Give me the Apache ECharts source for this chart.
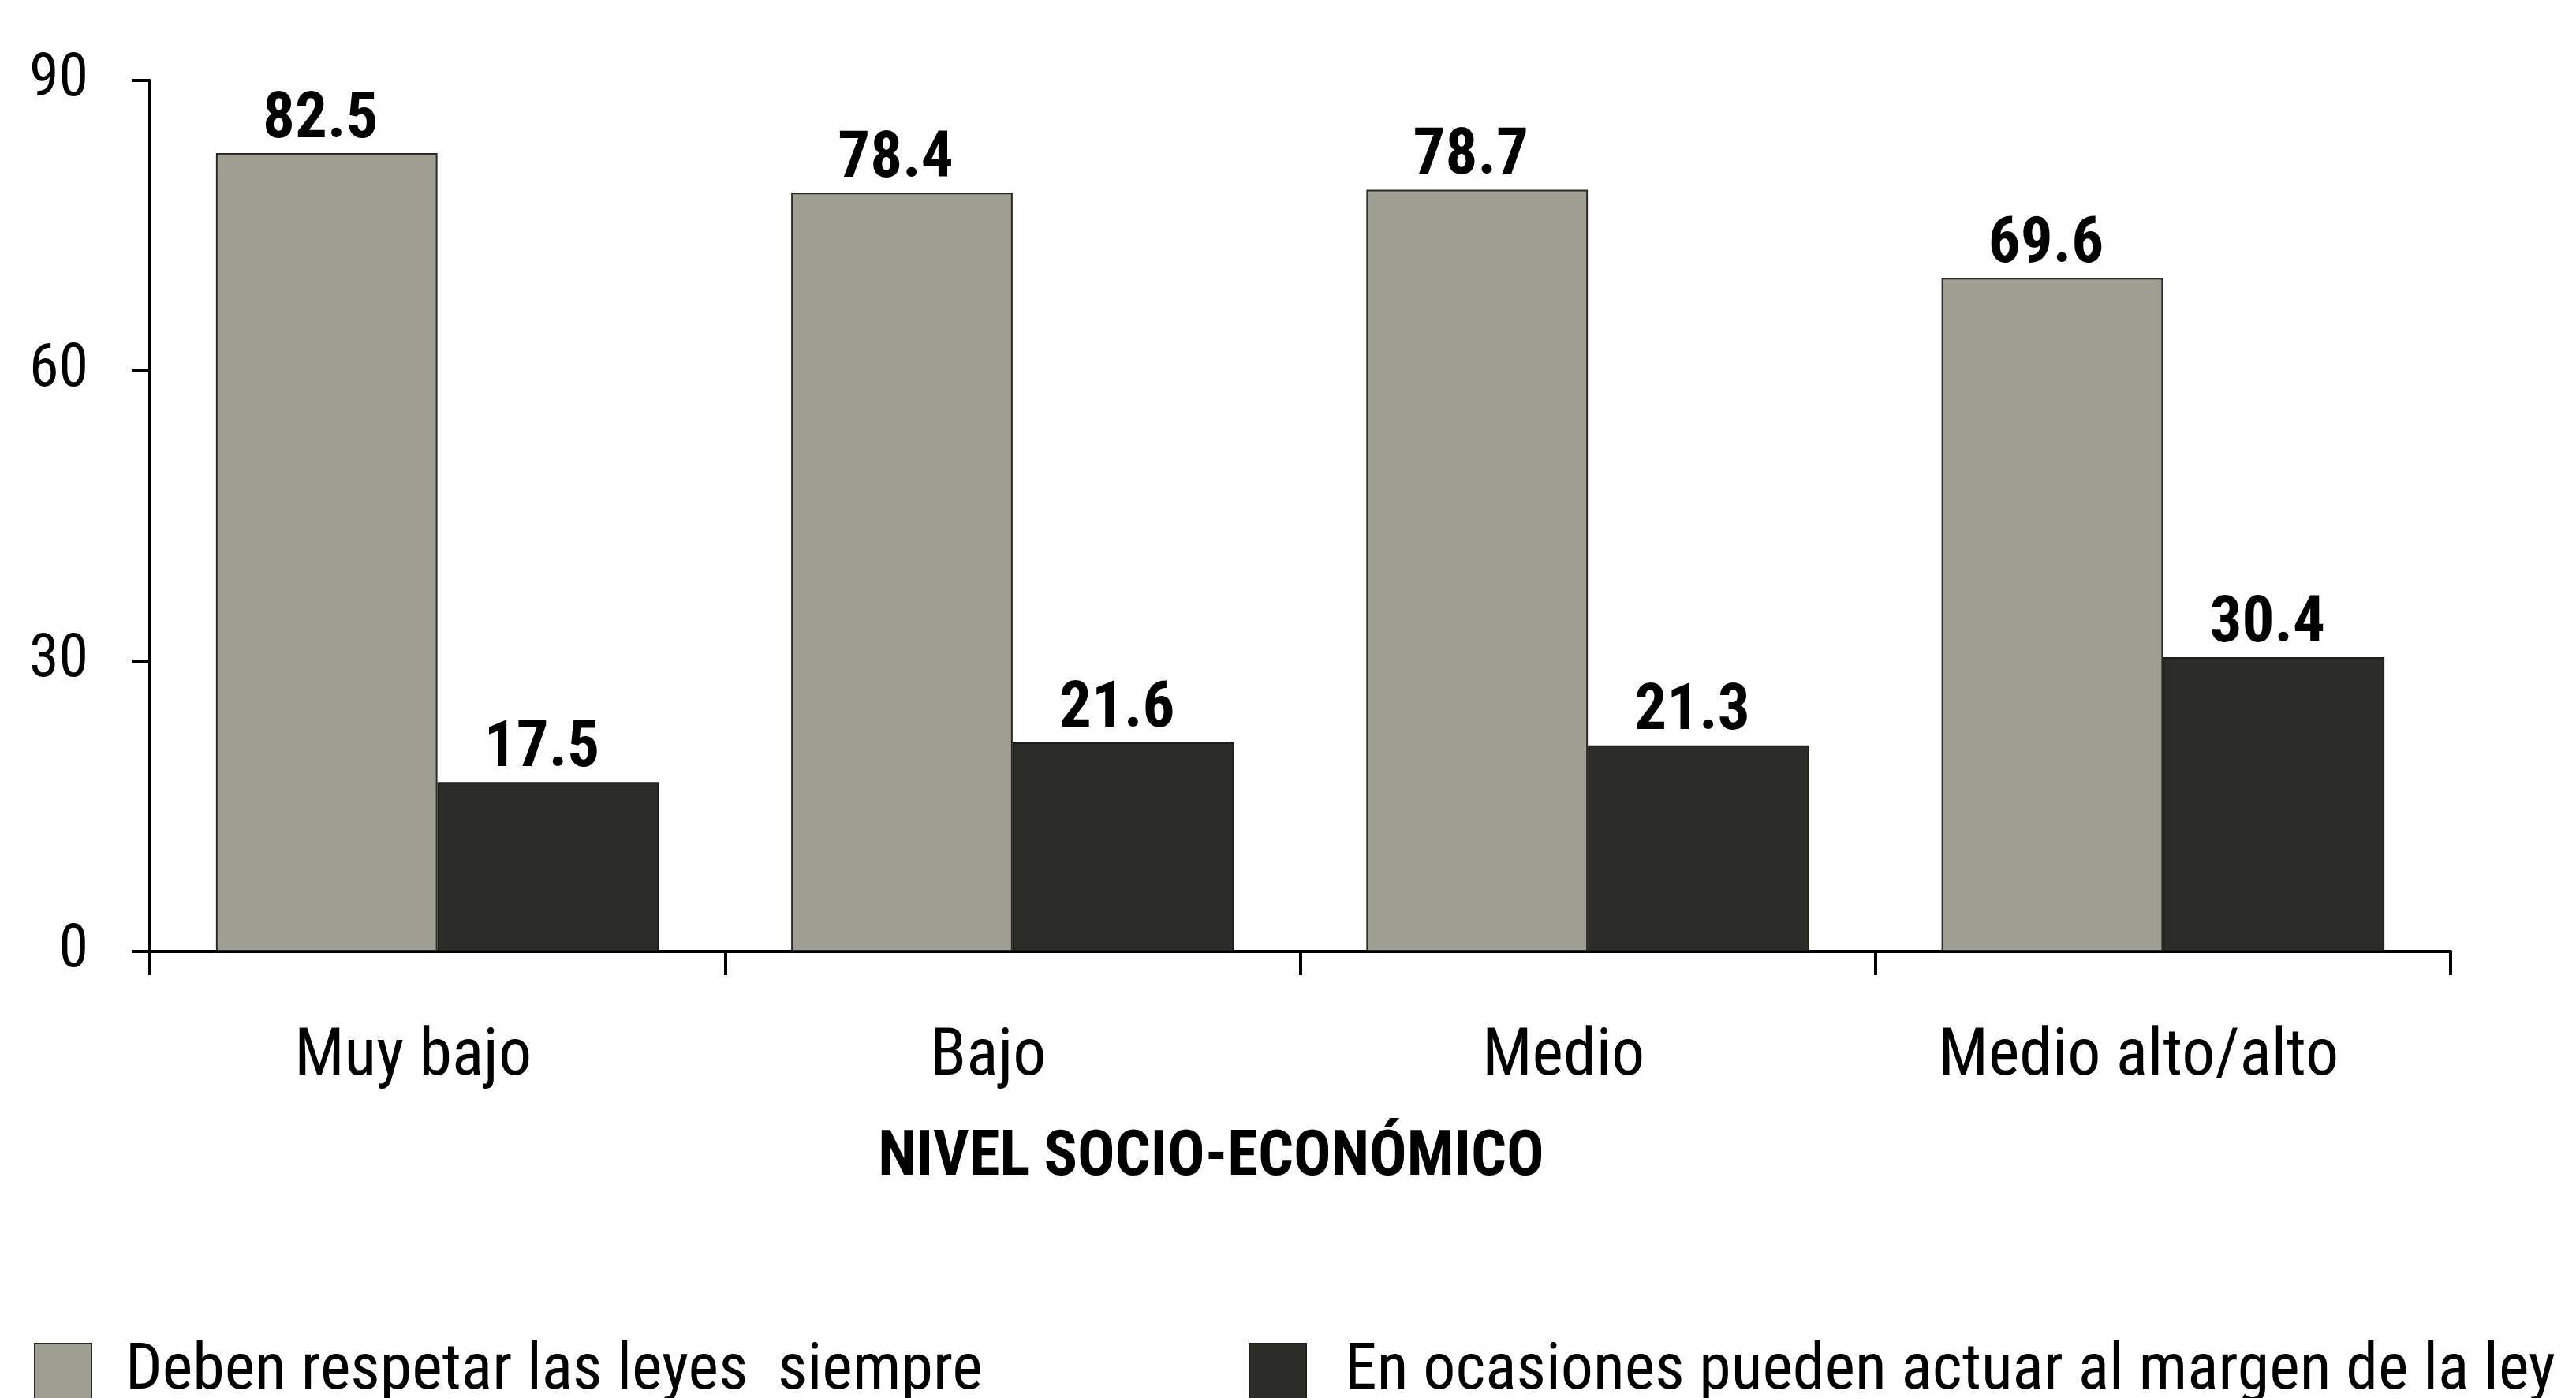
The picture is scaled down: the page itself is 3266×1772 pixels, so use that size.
<!DOCTYPE html>
<html>
<head>
<meta charset="utf-8">
<script src="https://cdn.jsdelivr.net/npm/echarts@6/dist/echarts.min.js"></script>
<style>
html,body{margin:0;padding:0;background:#ffffff;}
#chart{width:3266px;height:1772px;}
</style>
</head>
<body>
<div id="chart"></div>
<script>
const categories = ['Muy bajo', 'Bajo', 'Medio', 'Medio alto/alto'];
const seriesNames = ['Deben respetar las leyes  siempre', 'En ocasiones pueden actuar al margen de la ley'];
const respetar = [82.5, 78.4, 78.7, 69.6];
const margen = [17.5, 21.6, 21.3, 30.4];
const yTicks = [0, 30, 60, 90];
const axisTitle = 'NIVEL SOCIO-ECONÓMICO';

const FONT = '"Roboto Condensed", "Liberation Sans Narrow", "Arial Narrow", sans-serif';
const chart = echarts.init(document.getElementById('chart'), null, {renderer: 'canvas'});

const labelStyle = {
  show: true, position: 'top', distance: 0,
  fontFamily: FONT, fontWeight: 'bold', fontSize: 81, color: '#000',
  padding: [0, 16, 0, 0],
  formatter: p => p.value.toFixed(1)
};

chart.setOption({
  backgroundColor: '#ffffff',
  animation: false,
  grid: {left: 190, right: 159, top: 102, bottom: 566, containLabel: false},
  legend: [
    {
      data: [seriesNames[0]], left: 43, top: 1698, itemWidth: 72, itemHeight: 72,
      icon: 'rect', padding: 0,
      textStyle: {fontFamily: FONT, fontSize: 82, color: '#000', padding: [0, 0, 0, 38]}
    },
    {
      data: [seriesNames[1]], left: 1583, top: 1698, itemWidth: 72, itemHeight: 72,
      icon: 'rect', padding: 0,
      textStyle: {fontFamily: FONT, fontSize: 82, color: '#000', padding: [0, 0, 0, 44]}
    }
  ],
  xAxis: {
    type: 'category', data: categories,
    name: axisTitle, nameLocation: 'middle', nameGap: 224,
    nameTextStyle: {fontFamily: FONT, fontWeight: 'bold', fontSize: 79, color: '#000', padding: [0, 226, 0, 0]},
    axisLine: {lineStyle: {color: '#000', width: 4}},
    axisTick: {show: true, interval: 0, length: 30, lineStyle: {color: '#000', width: 4}},
    axisLabel: {interval: 0, fontFamily: FONT, fontSize: 84, color: '#000', margin: 93, padding: [0, 62, 0, 0]}
  },
  yAxis: {
    type: 'value', min: 0, max: 90, interval: 30,
    axisLine: {show: true, lineStyle: {color: '#000', width: 4}},
    axisTick: {show: true, length: 23, lineStyle: {color: '#000', width: 4}},
    splitLine: {show: false},
    axisLabel: {fontFamily: FONT, fontSize: 76, color: '#000', margin: 78,
      formatter: v => yTicks.includes(v) ? String(v) : ''}
  },
  series: [
    {
      name: seriesNames[0], type: 'bar', data: respetar,
      barWidth: '38.5%', barGap: '0%',
      itemStyle: {color: '#9e9e93', borderColor: '#2a2a26', borderWidth: 2},
      label: labelStyle
    },
    {
      name: seriesNames[1], type: 'bar', data: margen,
      barWidth: '38.5%',
      itemStyle: {color: '#2c2c28', borderColor: '#1e1e1b', borderWidth: 2},
      label: labelStyle
    }
  ]
});
</script>
</body>
</html>
